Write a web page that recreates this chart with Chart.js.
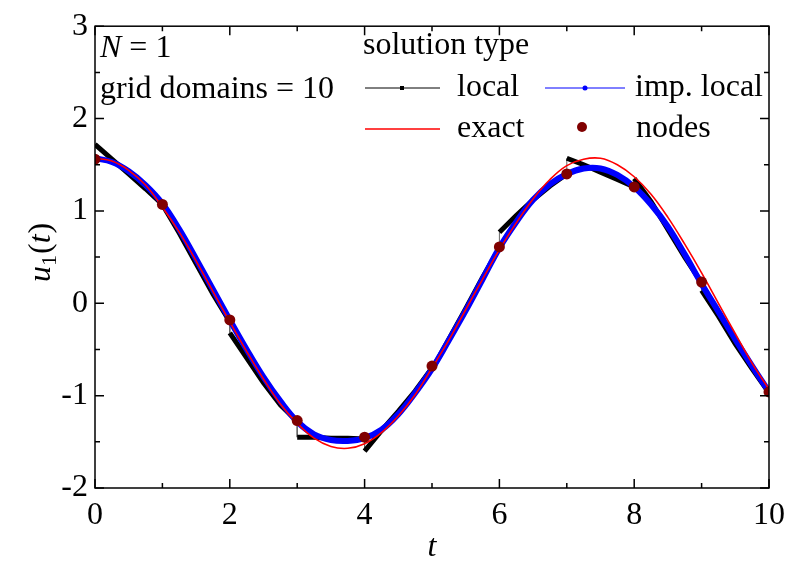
<!DOCTYPE html>
<html>
<head>
<meta charset="utf-8">
<script src="https://cdn.jsdelivr.net/npm/chart.js@4.4.0/dist/chart.umd.min.js"></script>
<style>
  html, body { margin: 0; padding: 0; background: #fff; }
  #wrap { width: 793px; height: 561px; }
</style>
</head>
<body>
<div id="wrap"><canvas id="chart" width="793" height="561"></canvas></div>
<script>
const SERIF = '"Liberation Serif", "Times New Roman", serif';

// grid nodes (t = 0..10)
const nodeT = [0, 1, 2, 3, 4, 5, 6, 7, 8, 9, 10];
const nodeU = [1.56, 1.07, -0.18, -1.27, -1.45, -0.68, 0.61, 1.40, 1.26, 0.23, -0.96];

// sample times for the smooth curves
const curveT = [0, 0.25, 0.5, 0.75, 1, 1.25, 1.5, 1.75, 2, 2.25, 2.5, 2.75, 3, 3.25, 3.5, 3.75,
  4, 4.25, 4.5, 4.75, 5, 5.25, 5.5, 5.75, 6, 6.25, 6.5, 6.75, 7, 7.25, 7.5, 7.75,
  8, 8.25, 8.5, 8.75, 9, 9.25, 9.5, 9.75, 10];

// exact solution
const exactU = [1.57, 1.54, 1.44, 1.28, 1.04, 0.77, 0.46, 0.13, -0.20, -0.52, -0.82, -1.09, -1.30, -1.46, -1.55, -1.57,
  -1.52, -1.40, -1.22, -0.99, -0.70, -0.40, -0.07, 0.26, 0.58, 0.87, 1.13, 1.34, 1.49, 1.56, 1.57, 1.50,
  1.37, 1.18, 0.93, 0.64, 0.33, 0.00, -0.33, -0.65, -0.93];

// improved local solution
const impU = [1.57, 1.53, 1.43, 1.28, 1.08, 0.80, 0.48, 0.15, -0.18, -0.50, -0.80, -1.06, -1.28, -1.42, -1.48, -1.49,
  -1.46, -1.37, -1.20, -0.97, -0.71, -0.40, -0.08, 0.26, 0.60, 0.88, 1.12, 1.29, 1.40, 1.46, 1.46, 1.39,
  1.26, 1.07, 0.83, 0.53, 0.21, -0.09, -0.39, -0.68, -0.96];

// local solution, one row per grid domain [k, k+1], sampled at these offsets
const localOffsets = [0, 0.25, 0.5, 0.75, 1];
const localU = [
  [1.72, 1.56, 1.40, 1.24, 1.07],
  [1.07, 0.76, 0.43, 0.10, -0.20],
  [-0.32, -0.59, -0.86, -1.10, -1.28],
  [-1.45, -1.45, -1.46, -1.46, -1.47],
  [-1.60, -1.38, -1.17, -0.95, -0.70],
  [-0.72, -0.39, -0.06, 0.28, 0.60],
  [0.77, 0.95, 1.12, 1.27, 1.40],
  [1.57, 1.50, 1.42, 1.34, 1.26],
  [1.35, 1.10, 0.80, 0.50, 0.22],
  [0.14, -0.14, -0.44, -0.71, -0.97]
];

// axis ticks
const xMajor = [0, 2, 4, 6, 8, 10];
const xMinor = [1, 3, 5, 7, 9];
const yMajor = [-2, -1, 0, 1, 2, 3];
const yMinor = [-1.5, -0.5, 0.5, 1.5, 2.5];

const localPts = [];
localU.forEach((row, k) => row.forEach((u, i) => localPts.push({ x: k + localOffsets[i], y: u })));
const exactPts = curveT.map((t, i) => ({ x: t, y: exactU[i] }));
const impPts = curveT.map((t, i) => ({ x: t, y: impU[i] }));
const nodePts = nodeT.map((t, i) => ({ x: t, y: nodeU[i] }));

const isJump = c => c.p0.parsed.x === c.p1.parsed.x;

const framePlugin = {
  id: 'frame',
  afterDatasetsDraw(chart) {
    const { ctx, chartArea: a, scales: { x, y } } = chart;
    ctx.save();
    ctx.strokeStyle = '#000';
    ctx.lineWidth = 1.5;
    ctx.strokeRect(a.left, a.top, a.right - a.left, a.bottom - a.top);
    ctx.beginPath();
    const xt = (v, len) => {
      const p = x.getPixelForValue(v);
      ctx.moveTo(p, a.bottom); ctx.lineTo(p, a.bottom - len);
      ctx.moveTo(p, a.top); ctx.lineTo(p, a.top + len);
    };
    const yt = (v, len) => {
      const p = y.getPixelForValue(v);
      ctx.moveTo(a.left, p); ctx.lineTo(a.left + len, p);
      ctx.moveTo(a.right, p); ctx.lineTo(a.right - len, p);
    };
    xMajor.forEach(v => xt(v, 9));
    xMinor.forEach(v => xt(v, 5));
    yMajor.forEach(v => yt(v, 9));
    yMinor.forEach(v => yt(v, 5));
    ctx.stroke();
    ctx.restore();
  },
  afterDraw(chart) {
    const { ctx } = chart;
    ctx.save();
    ctx.fillStyle = '#000';
    ctx.textBaseline = 'middle';
    ctx.textAlign = 'left';
    const roman = '32px ' + SERIF;
    const ital = 'italic 32px ' + SERIF;

    // y axis title u_1(t)
    ctx.save();
    ctx.translate(42, 250);
    ctx.rotate(-Math.PI / 2);
    let cx = -32;
    ctx.font = ital; ctx.fillText('u', cx, 0); cx += ctx.measureText('u').width;
    ctx.font = '22px ' + SERIF; ctx.fillText('1', cx, 8); cx += ctx.measureText('1').width + 1;
    ctx.font = roman; ctx.fillText('(', cx, 0); cx += ctx.measureText('(').width;
    ctx.font = ital; ctx.fillText('t', cx, 0); cx += ctx.measureText('t').width + 1;
    ctx.font = roman; ctx.fillText(')', cx, 0);
    ctx.restore();

    // annotations
    ctx.font = ital; ctx.fillText('N', 100, 49);
    const nw = ctx.measureText('N').width;
    ctx.font = roman; ctx.fillText(' = 1', 100 + nw, 49);
    ctx.fillText('grid domains = 10', 100, 90);

    // legend
    ctx.fillText('solution type', 363, 46);
    const ds = chart.data.datasets;
    const row1 = 88, row2 = 129;
    // local
    ctx.strokeStyle = '#000'; ctx.lineWidth = 1;
    ctx.beginPath(); ctx.moveTo(365, row1); ctx.lineTo(440, row1); ctx.stroke();
    ctx.fillStyle = '#000'; ctx.fillRect(400, row1 - 2, 4, 4);
    ctx.fillText(ds[0].label, 457, row1);
    // imp. local
    ctx.strokeStyle = ds[1].borderColor; ctx.lineWidth = 1;
    ctx.beginPath(); ctx.moveTo(545, row1); ctx.lineTo(625, row1); ctx.stroke();
    ctx.fillStyle = ds[1].borderColor;
    ctx.beginPath(); ctx.arc(585, row1, 2.5, 0, Math.PI * 2); ctx.fill();
    ctx.fillStyle = '#000'; ctx.fillText(ds[1].label, 635, row1);
    // exact
    ctx.strokeStyle = ds[2].borderColor; ctx.lineWidth = 1.6;
    ctx.beginPath(); ctx.moveTo(365, row2); ctx.lineTo(440, row2); ctx.stroke();
    ctx.fillText(ds[2].label, 457, row2);
    // nodes
    ctx.fillStyle = ds[3].pointBackgroundColor;
    ctx.beginPath(); ctx.arc(582, row2 - 2, 5, 0, Math.PI * 2); ctx.fill();
    ctx.fillStyle = '#000'; ctx.fillText(ds[3].label, 636, row2);
    ctx.restore();
  }
};

new Chart(document.getElementById('chart').getContext('2d'), {
  type: 'scatter',
  data: {
    datasets: [
      {
        label: 'local',
        data: localPts,
        showLine: true,
        borderColor: '#000000',
        borderWidth: 5,
        borderCapStyle: 'butt',
        pointRadius: 0,
        tension: 0,
        order: 3,
        segment: {
          borderWidth: c => isJump(c) ? 1 : 5,
          borderColor: c => isJump(c) ? '#666666' : '#000000'
        }
      },
      {
        label: 'imp. local',
        data: impPts,
        showLine: true,
        borderColor: '#0000ff',
        borderWidth: 6,
        pointRadius: 0,
        tension: 0.4,
        order: 2
      },
      {
        label: 'exact',
        data: exactPts,
        showLine: true,
        borderColor: '#ff0000',
        borderWidth: 1.6,
        pointRadius: 0,
        tension: 0.4,
        order: 1
      },
      {
        label: 'nodes',
        data: nodePts,
        showLine: false,
        pointRadius: 5.5,
        pointBackgroundColor: '#800000',
        pointBorderWidth: 0,
        order: 0
      }
    ]
  },
  options: {
    responsive: false,
    animation: false,
    layout: { padding: { top: 15, right: 24, left: 0, bottom: 0 } },
    plugins: {
      legend: { display: false },
      tooltip: { enabled: false }
    },
    scales: {
      x: {
        type: 'linear',
        min: 0,
        max: 10,
        grid: { display: false, drawTicks: false },
        border: { display: false },
        ticks: {
          stepSize: 2,
          padding: 8,
          color: '#000',
          font: { family: SERIF, size: 32 }
        },
        title: {
          display: true,
          text: 't',
          color: '#000',
          padding: { top: 0, bottom: 0 },
          font: { family: SERIF, size: 32, style: 'italic', lineHeight: 0.85 }
        },
        afterFit: s => { s.height = 73; }
      },
      y: {
        type: 'linear',
        min: -2,
        max: 3,
        grid: { display: false, drawTicks: false },
        border: { display: false },
        ticks: {
          stepSize: 1,
          padding: 7,
          color: '#000',
          font: { family: SERIF, size: 32 }
        },
        afterFit: s => { s.width = 95; }
      }
    }
  },
  plugins: [framePlugin]
});
</script>
</body>
</html>
